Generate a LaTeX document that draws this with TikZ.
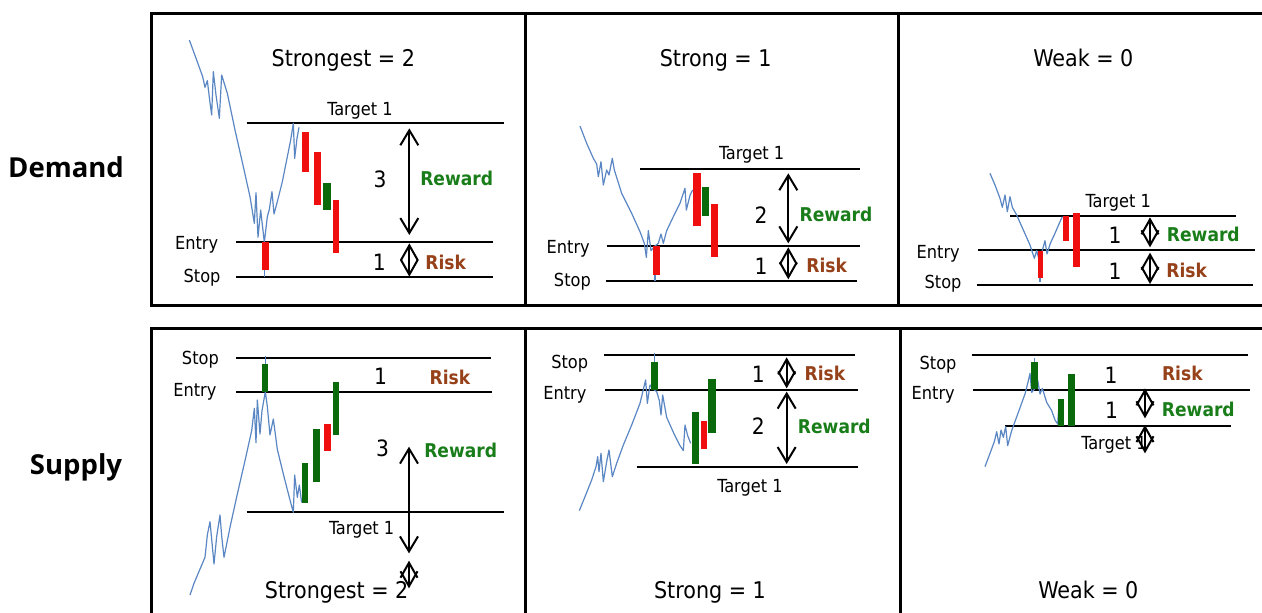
\documentclass[tikz,border=0pt]{standalone}
\usepackage{fontspec}
\setmainfont{DejaVu Sans Condensed}
\newfontfamily\sidefont{Open Sans}
\usetikzlibrary{arrows.meta}
\definecolor{pricec}{RGB}{90,135,195}
\definecolor{bull}{RGB}{10,105,10}
\definecolor{bear}{RGB}{240,15,15}
\definecolor{rewardc}{RGB}{25,125,25}
\definecolor{riskc}{RGB}{150,65,25}
\tikzset{
  panelframe/.style={line width=3pt, line join=miter},
  hline/.style={line width=2pt},
  pricepath/.style={draw=pricec, line width=1.2pt, line join=round},
  bullc/.style={fill=bull},
  bearc/.style={fill=bear},
  rrarrow/.style={line width=2pt, {Straight Barb[length=15pt,width=18pt]}-{Straight Barb[length=15pt,width=18pt]}},
  rrpip/.style={line width=2pt, {Straight Barb[length=15pt,width=17pt]}-{Straight Barb[length=15pt,width=17pt]}},
  heading/.style={font=\fontsize{23}{27}\selectfont, inner sep=0pt, text height=16.8pt, text depth=0pt},
  lvl/.style={font=\fontsize{18}{22}\selectfont, inner sep=0pt, text height=13.1pt, text depth=0pt},
  ratiolab/.style={font=\fontsize{22.5}{26}\selectfont, inner sep=0pt, text height=16.4pt, text depth=0pt},
  rewardlab/.style={font=\bfseries\fontsize{19}{23}\selectfont, text=rewardc, inner sep=0pt, text height=13.9pt, text depth=0pt},
  risklab/.style={font=\bfseries\fontsize{19}{23}\selectfont, text=riskc, inner sep=0pt, text height=13.9pt, text depth=0pt},
  rowlab/.style={font=\sidefont\bfseries\fontsize{27.5}{32}\selectfont, inner sep=0pt, text height=19.6pt, text depth=0pt},
}
\begin{document}
\begin{tikzpicture}[x=1pt,y=-1pt]
\useasboundingbox (0,0) rectangle (1262,613);
\clip (0,0) rectangle (1262,613);
\fill[white] (0,0) rectangle (1262,613);

% row labels
\node[rowlab] (demand) at (66,168) {Demand};
\node[rowlab] (supply) at (76,465) {Supply};

% panel frames
\draw[panelframe] (151,13) rectangle (1275,305);
\draw[panelframe] (525,13) -- (525,305);
\draw[panelframe] (898,13) -- (898,305);
\draw[panelframe] (151,328) rectangle (1275,625);
\draw[panelframe] (525,328) -- (525,625);
\draw[panelframe] (900,328) -- (900,625);

% ---------- Demand, strongest ----------
\begin{scope}[shift={(150,10)}, x=0.33333pt, y=-0.33333pt]
  \node[heading] (d1title) at (580,145) {Strongest = 2};
  \draw[hline] (290,340) -- (1062,340);
  \draw[hline] (258,697) -- (1028,697);
  \draw[hline] (258,800) -- (1028,800);
  \node[lvl] (d1tgt) at (630,298) {Target 1};
  \node[lvl, anchor=east] (d1ent) at (205,700) {Entry};
  \node[lvl, anchor=east] (d1stp) at (212,797) {Stop};
  \draw[pricepath] (118,90) -- (140,150) -- (158,200) -- (165,232) -- (172,212) -- (180,278) -- (185,315) -- (190,185) -- (198,255) -- (208,325) -- (215,195) -- (232,250) -- (255,360) -- (280,470) -- (300,560) -- (313,640) -- (318,548) -- (324,682) -- (332,600) -- (343,697) -- (352,620) -- (358,598) -- (366,545) -- (372,612) -- (382,575) -- (397,515) -- (412,440) -- (422,390) -- (430,340) -- (434,445) -- (441,385) -- (447,352);
  \draw[pricepath] (343,697) -- (343,800);
  \fill[bearc] (335,697) rectangle (357,780);
  \fill[bearc] (455,365) rectangle (477,487);
  \fill[bearc] (492,427) rectangle (513,585);
  \fill[bullc] (520,520) rectangle (543,600);
  \fill[bearc] (548,570) rectangle (568,728);
  \draw[rrarrow] (778,355) -- (778,675);
  \draw[rrpip] (778,700) -- (778,800);
  \node[ratiolab] (d1n3) at (690,508) {3};
  \node[rewardlab] (d1rw) at (920,505) {Reward};
  \node[ratiolab] (d1n1) at (688,757) {1};
  \node[risklab] (d1rk) at (887,757) {Risk};
\end{scope}

% ---------- Demand, strong ----------
\begin{scope}[shift={(525,10)}, x=0.33333pt, y=-0.33333pt]
  \node[heading] (d2title) at (572,145) {Strong = 1};
  \draw[hline] (345,478) -- (1005,478);
  \draw[hline] (245,708) -- (1005,708);
  \draw[hline] (242,813) -- (995,813);
  \node[lvl] (d2tgt) at (680,430) {Target 1};
  \node[lvl, anchor=east] (d2ent) at (195,712) {Entry};
  \node[lvl, anchor=east] (d2stp) at (198,810) {Stop};
  \draw[pricepath] (165,348) -- (185,400) -- (205,445) -- (215,462) -- (220,500) -- (228,455) -- (235,525) -- (245,480) -- (252,495) -- (262,445) -- (268,480) -- (290,550) -- (320,610) -- (345,665) -- (358,700) -- (364,742) -- (370,662) -- (378,722) -- (390,708) -- (400,700) -- (408,672) -- (415,700) -- (425,662) -- (445,620) -- (465,580) -- (480,535) -- (484,600) -- (495,556) -- (503,540);
  \draw[pricepath] (390,708) -- (390,813);
  \fill[bearc] (385,708) rectangle (405,795);
  \fill[bearc] (505,488) rectangle (527,648);
  \fill[bullc] (530,532) rectangle (552,618);
  \fill[bearc] (557,583) rectangle (578,740);
  \draw[rrarrow] (790,490) -- (790,700);
  \draw[rrpip] (790,712) -- (790,808);
  \node[ratiolab] (d2n2) at (708,615) {2};
  \node[rewardlab] (d2rw) at (933,613) {Reward};
  \node[ratiolab] (d2n1) at (708,768) {1};
  \node[risklab] (d2rk) at (905,768) {Risk};
\end{scope}

% ---------- Demand, weak ----------
\begin{scope}[shift={(895,10)}, x=0.33333pt, y=-0.33333pt]
  \node[heading] (d3title) at (565,145) {Weak = 0};
  \draw[hline] (345,617) -- (1022,617);
  \draw[hline] (250,720) -- (1080,720);
  \draw[hline] (245,825) -- (1075,825);
  \node[lvl] (d3tgt) at (670,573) {Target 1};
  \node[lvl, anchor=east] (d3ent) at (195,727) {Entry};
  \node[lvl, anchor=east] (d3stp) at (200,815) {Stop};
  \draw[pricepath] (285,490) -- (300,525) -- (315,565) -- (322,592) -- (330,555) -- (337,605) -- (345,560) -- (352,592) -- (365,615) -- (385,660) -- (405,705) -- (418,745) -- (425,722) -- (435,760) -- (440,728) -- (450,692) -- (456,732) -- (466,700) -- (480,670) -- (495,635) -- (502,620);
  \draw[pricepath] (435,722) -- (435,815);
  \fill[bearc] (428,722) rectangle (445,805);
  \fill[bearc] (503,617) rectangle (522,693);
  \fill[bearc] (535,610) rectangle (555,770);
  \draw[rrpip] (765,622) -- (765,712);
  \draw[rrpip] (765,728) -- (765,822);
  \node[ratiolab] (d3n1a) at (660,675) {1};
  \node[rewardlab] (d3rw) at (925,675) {Reward};
  \node[ratiolab] (d3n1b) at (660,783) {1};
  \node[risklab] (d3rk) at (875,783) {Risk};
\end{scope}

% ---------- Supply, strongest ----------
\begin{scope}[shift={(150,320)}, x=0.33333pt, y=-0.33333pt]
  \draw[hline] (258,113) -- (1022,113);
  \draw[hline] (258,215) -- (1027,215);
  \draw[hline] (290,575) -- (1062,575);
  \node[lvl, anchor=east] (s1stp) at (207,113) {Stop};
  \node[lvl, anchor=east] (s1ent) at (200,210) {Entry};
  \node[lvl] (s1tgt) at (635,625) {Target 1};
  \draw[pricepath] (120,825) -- (132,790) -- (148,752) -- (165,712) -- (172,645) -- (180,605) -- (186,668) -- (192,732) -- (200,650) -- (210,585) -- (215,648) -- (222,712) -- (240,622) -- (262,522) -- (285,422) -- (305,332) -- (313,265) -- (318,368) -- (322,240) -- (330,342) -- (336,272) -- (346,215) -- (352,260) -- (360,345) -- (370,297) -- (382,388) -- (400,462) -- (420,540) -- (430,577) -- (434,465) -- (442,532) -- (448,495) -- (455,548);
  \draw[pricepath] (346,108) -- (346,215);
  \fill[bullc] (337,133) rectangle (355,215);
  \fill[bullc] (455,428) rectangle (475,548);
  \fill[bullc] (490,328) rectangle (510,487);
  \fill[bearc] (522,312) rectangle (543,392);
  \fill[bullc] (548,187) rectangle (568,345);
  \node[ratiolab] (s1n1) at (692,170) {1};
  \node[risklab] (s1rk) at (900,172) {Risk};
  \node[ratiolab] (s1n3) at (698,385) {3};
  \node[rewardlab] (s1rw) at (932,392) {Reward};
  \node[heading] (s1title) at (560,810) {Strongest = 2};
  \draw[rrarrow] (777,380) -- (777,700);
  \draw[rrpip] (777,722) -- (777,805);
\end{scope}

% ---------- Supply, strong ----------
\begin{scope}[shift={(525,320)}, x=0.33333pt, y=-0.33333pt]
  \draw[hline] (238,105) -- (990,105);
  \draw[hline] (240,210) -- (1000,210);
  \draw[hline] (335,440) -- (1000,440);
  \node[lvl, anchor=east] (s2stp) at (190,125) {Stop};
  \node[lvl, anchor=east] (s2ent) at (185,218) {Entry};
  \node[lvl] (s2tgt) at (675,497) {Target 1};
  \draw[pricepath] (163,572) -- (180,530) -- (200,480) -- (213,440) -- (218,410) -- (222,455) -- (228,400) -- (235,485) -- (245,425) -- (252,390) -- (262,470) -- (275,430) -- (295,375) -- (320,315) -- (345,250) -- (357,200) -- (362,180) -- (367,250) -- (375,195) -- (388,210) -- (395,215) -- (403,242) -- (408,285) -- (413,225) -- (425,292) -- (445,337) -- (465,377) -- (475,392) -- (480,315) -- (488,347) -- (497,370);
  \draw[pricepath] (388,100) -- (388,210);
  \fill[bullc] (378,125) rectangle (398,210);
  \fill[bullc] (500,275) rectangle (522,433);
  \fill[bearc] (527,303) rectangle (545,387);
  \fill[bullc] (550,178) rectangle (572,338);
  \draw[rrpip] (785,112) -- (785,205);
  \draw[rrarrow] (785,215) -- (785,432);
  \node[ratiolab] (s2n1) at (700,163) {1};
  \node[risklab] (s2rk) at (900,160) {Risk};
  \node[ratiolab] (s2n2) at (700,318) {2};
  \node[rewardlab] (s2rw) at (928,320) {Reward};
  \node[heading] (s2title) at (555,810) {Strong = 1};
\end{scope}

% ---------- Supply, weak ----------
\begin{scope}[shift={(895,320)}, x=0.33333pt, y=-0.33333pt]
  \draw[hline] (230,105) -- (1060,105);
  \draw[hline] (233,210) -- (1065,210);
  \draw[hline] (330,318) -- (1008,318);
  \node[lvl, anchor=east] (s3stp) at (185,130) {Stop};
  \node[lvl, anchor=east] (s3ent) at (180,220) {Entry};
  \node[lvl] (s3tgt) at (657,370) {Target 1};
  \draw[pricepath] (270,440) -- (285,400) -- (298,365) -- (305,335) -- (312,372) -- (318,330) -- (325,352) -- (332,320) -- (338,377) -- (350,332) -- (370,277) -- (390,222) -- (400,182) -- (405,160) -- (410,217) -- (418,208) -- (428,180) -- (435,222) -- (442,205) -- (455,247) -- (470,272) -- (480,300) -- (488,312) -- (492,252);
  \draw[pricepath] (418,115) -- (418,208);
  \fill[bullc] (408,125) rectangle (428,208);
  \fill[bullc] (490,238) rectangle (508,318);
  \fill[bullc] (518,162) rectangle (540,318);
  \node[ratiolab] (s3n1a) at (648,165) {1};
  \node[risklab] (s3rk) at (862,160) {Risk};
  \node[ratiolab] (s3n1b) at (650,272) {1};
  \node[rewardlab] (s3rw) at (910,270) {Reward};
  \draw[rrpip] (750,205) -- (750,295);
  \draw[rrpip] (750,315) -- (750,400);
  \node[heading] (s3title) at (580,810) {Weak = 0};
\end{scope}
\end{tikzpicture}
\end{document}
